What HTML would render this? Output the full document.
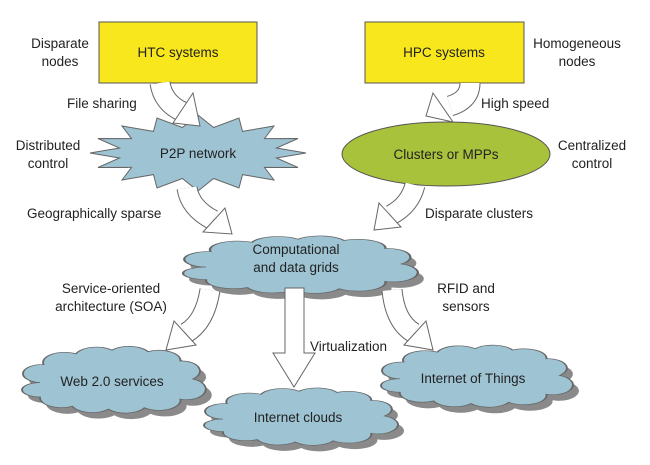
<!DOCTYPE html>
<html><head><meta charset="utf-8"><style>
html,body{margin:0;padding:0;background:#fff}
svg{display:block}
text{font-family:"Liberation Sans",sans-serif;font-size:13.5px;fill:#222}
</style></head><body>
<svg width="650" height="465" viewBox="0 0 650 465" xmlns="http://www.w3.org/2000/svg">
<defs>
<path id="cl" d="M10,55 A10,12 0 0 1 12,30 A12,14 0 0 1 30,15 A12,14 0 0 1 50,10 A12,14 0 0 1 70,12 A12,14 0 0 1 88,25 A10,14 0 0 1 95,50 A10,14 0 0 1 88,78 A12,14 0 0 1 68,90 A12,14 0 0 1 48,92 A12,14 0 0 1 28,88 A12,14 0 0 1 10,75 A10,10 0 0 1 10,55 Z"/>
</defs>
<!-- boxes -->
<rect x="99" y="22" width="158" height="61" fill="#f8e71c" stroke="#555" stroke-width="1"/>
<rect x="365" y="22" width="159" height="61" fill="#f8e71c" stroke="#555" stroke-width="1"/>
<text x="178" y="57" text-anchor="middle" font-size="14">HTC systems</text>
<text x="444" y="57" text-anchor="middle" font-size="14">HPC systems</text>
<!-- starburst -->
<polygon fill="#9ec4d4" stroke="#666" stroke-width="1" points="306,153 276.5,158 298,167.5 264.5,167.4 274,180 242.5,174.6 239,188 213.6,178.5 198,191 182.4,178.5 157,188 153.5,174.6 122,180 131.5,167.4 98,167.5 119.5,158 90,153 119.5,148 98,138.5 131.5,138.6 122,126 153.5,131.4 157,118 182.4,127.5 198,115 213.6,127.5 239,118 242.5,131.4 274,126 264.5,138.6 298,138.5 276.5,148"/>
<text x="198" y="158" text-anchor="middle">P2P network</text>
<ellipse cx="446" cy="154" rx="104" ry="32" fill="#a9c23c" stroke="#555" stroke-width="1"/>
<text x="446" y="159" text-anchor="middle">Clusters or MPPs</text>
<!-- clouds -->
<g>
<use href="#cl" transform="translate(189,239) scale(2.3,0.62)" fill="#8a8a8a"/>
<use href="#cl" transform="translate(183,233) scale(2.3,0.62)" fill="#9ec4d4" stroke="#666" stroke-width="1" vector-effect="non-scaling-stroke"/>
<use href="#cl" transform="translate(28,349) scale(1.8,0.72)" fill="#8a8a8a"/>
<use href="#cl" transform="translate(22,343) scale(1.8,0.72)" fill="#9ec4d4" stroke="#666" stroke-width="1"/>
<use href="#cl" transform="translate(210,391) scale(1.9,0.62)" fill="#8a8a8a"/>
<use href="#cl" transform="translate(204,385) scale(1.9,0.62)" fill="#9ec4d4" stroke="#666" stroke-width="1"/>
<use href="#cl" transform="translate(387,348) scale(1.88,0.67)" fill="#8a8a8a"/>
<use href="#cl" transform="translate(381,342) scale(1.88,0.67)" fill="#9ec4d4" stroke="#666" stroke-width="1"/>
</g>
<text x="296" y="254" text-anchor="middle">Computational</text>
<text x="296" y="272" text-anchor="middle">and data grids</text>
<text x="112" y="386" text-anchor="middle">Web 2.0 services</text>
<text x="298" y="422" text-anchor="middle">Internet clouds</text>
<text x="473" y="383" text-anchor="middle">Internet of Things</text>
<!-- arrows -->
<g fill="none" stroke-linecap="butt">
<path d="M160,83 Q163,103 183,112" stroke="#666" stroke-width="21"/>
<path d="M160,83 Q163,103 183,112" stroke="#fff" stroke-width="19"/>
<path d="M470,83 Q470,100 450,106" stroke="#666" stroke-width="21"/>
<path d="M470,83 Q470,100 450,106" stroke="#fff" stroke-width="19"/>
<path d="M187,188 Q190,208 213,220" stroke="#666" stroke-width="21"/>
<path d="M187,188 Q190,208 213,220" stroke="#fff" stroke-width="19"/>
<path d="M415,185 Q410,205 391,215" stroke="#666" stroke-width="21"/>
<path d="M415,185 Q410,205 391,215" stroke="#fff" stroke-width="19"/>
<path d="M210,290 Q205,322 186,333" stroke="#666" stroke-width="21"/>
<path d="M210,290 Q205,322 186,333" stroke="#fff" stroke-width="19"/>
<path d="M392,290 Q395,322 414,333" stroke="#666" stroke-width="21"/>
<path d="M392,290 Q395,322 414,333" stroke="#fff" stroke-width="19"/>
</g>
<g fill="#fff" stroke="#666" stroke-width="1">
<polygon points="173,123 193,93 200,126"/>
<polygon points="433,93 426,116 453,122"/>
<polygon points="203,232 225,208 232,234"/>
<polygon points="401,227 379,203 374,230"/>
<polygon points="196,345 174,321 166,350"/>
<polygon points="404,345 426,321 433,350"/>
<polygon points="285,288 304,288 304,353 315,353 294,387 273,353 285,353"/>
</g>
<!-- labels -->
<text x="60" y="48" text-anchor="middle">Disparate</text>
<text x="60" y="66" text-anchor="middle">nodes</text>
<text x="577" y="48" text-anchor="middle">Homogeneous</text>
<text x="577" y="66" text-anchor="middle">nodes</text>
<text x="67" y="108">File sharing</text>
<text x="481" y="108">High speed</text>
<text x="48" y="150" text-anchor="middle">Distributed</text>
<text x="48" y="168" text-anchor="middle">control</text>
<text x="592" y="150" text-anchor="middle">Centralized</text>
<text x="592" y="168" text-anchor="middle">control</text>
<text x="27" y="218">Geographically sparse</text>
<text x="425" y="218">Disparate clusters</text>
<text x="111" y="293" text-anchor="middle">Service-oriented</text>
<text x="111" y="311" text-anchor="middle">architecture (SOA)</text>
<text x="466" y="293" text-anchor="middle">RFID and</text>
<text x="466" y="311" text-anchor="middle">sensors</text>
<text x="310" y="351">Virtualization</text>
</svg>
</body></html>
